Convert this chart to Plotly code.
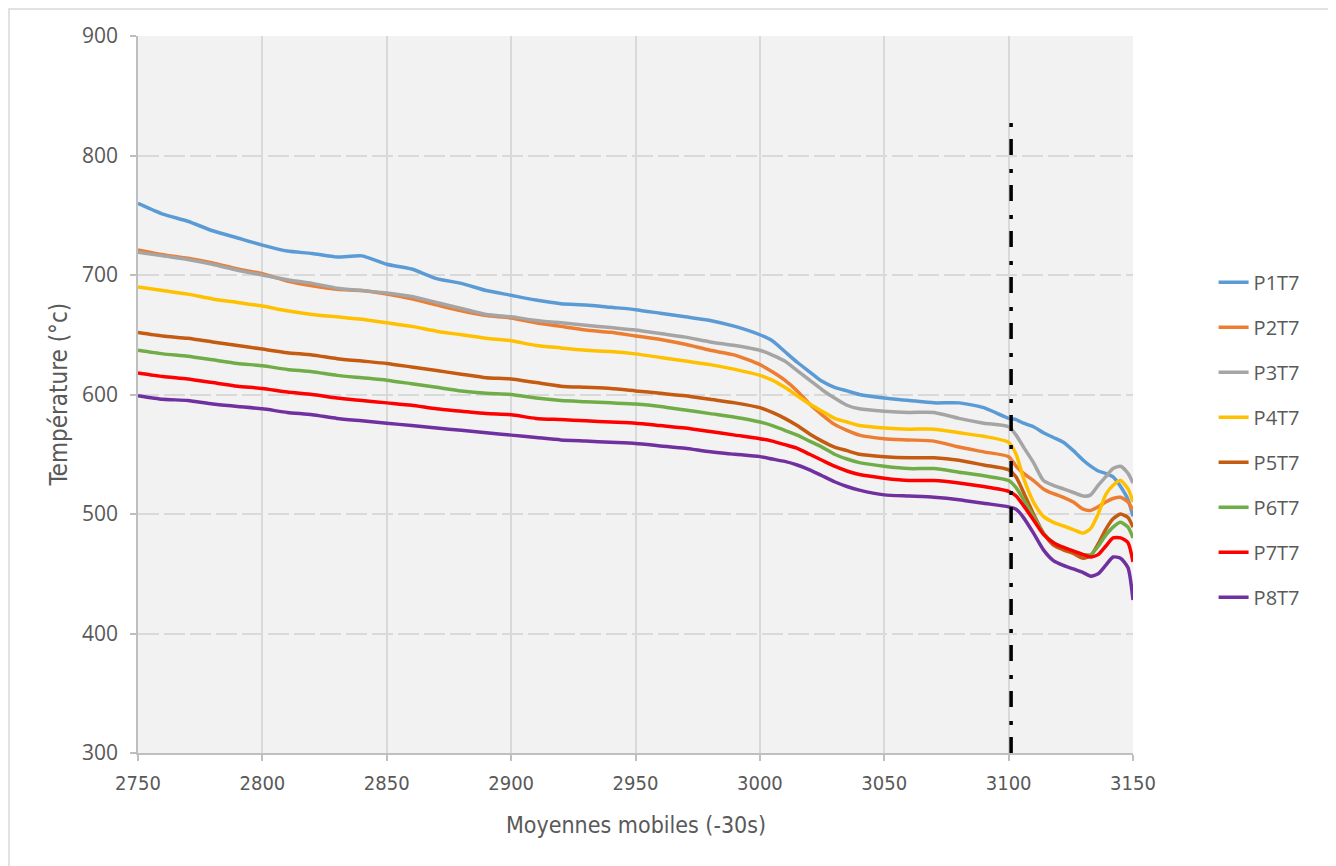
import plotly.graph_objects as go

x_vals = [2750, 2760, 2770, 2780, 2790, 2800, 2810, 2820, 2830, 2840,
          2850, 2860, 2870, 2880, 2890, 2900, 2910, 2920, 2930, 2940,
          2950, 2960, 2970, 2980, 2990, 3000, 3005, 3010, 3015, 3020,
          3025, 3030, 3035, 3040, 3050, 3060, 3070, 3080, 3090, 3100,
          3103, 3106, 3110, 3114, 3118, 3122, 3126, 3130, 3133, 3136,
          3139, 3142, 3145, 3148, 3150]

p1t7 = [760, 751, 745, 737, 731, 725, 720, 718, 715, 716,
        709, 705, 697, 693, 687, 683, 679, 676, 675, 673,
        671, 668, 665, 662, 657, 650, 645, 636, 627, 619,
        611, 606, 603, 600, 597, 595, 593, 593, 589, 580,
        579, 576, 573, 568, 564, 560, 553, 545, 540, 536,
        534, 531, 523, 512, 498]
p2t7 = [721, 717, 714, 710, 705, 701, 695, 691, 688, 687,
        684, 680, 675, 670, 666, 664, 660, 657, 654, 652,
        649, 646, 642, 637, 633, 625, 619, 612, 603, 592,
        583, 575, 570, 566, 563, 562, 561, 556, 552, 548,
        540, 534, 528, 521, 517, 514, 510, 504, 503, 506,
        510, 513, 514, 510, 503]
p3t7 = [719, 716, 713, 709, 704, 700, 696, 693, 689, 687,
        685, 682, 677, 672, 667, 665, 662, 660, 658, 656,
        654, 651, 648, 644, 641, 637, 633, 628, 620, 612,
        604, 597, 591, 588, 586, 585, 585, 580, 576, 573,
        566, 556, 543, 528, 524, 521, 518, 515, 516, 524,
        531, 538, 540, 534, 526]
p4t7 = [690, 687, 684, 680, 677, 674, 670, 667, 665, 663,
        660, 657, 653, 650, 647, 645, 641, 639, 637, 636,
        634, 631, 628, 625, 621, 616, 612, 606, 599, 592,
        586, 580, 577, 574, 572, 571, 571, 568, 565, 560,
        550, 530, 510, 498, 493, 490, 487, 484, 488, 500,
        516, 524, 528, 521, 510]
p5t7 = [652, 649, 647, 644, 641, 638, 635, 633, 630, 628,
        626, 623, 620, 617, 614, 613, 610, 607, 606, 605,
        603, 601, 599, 596, 593, 589, 585, 580, 574, 567,
        561, 556, 553, 550, 548, 547, 547, 545, 541, 537,
        531, 518, 500, 484, 474, 470, 467, 463, 465, 475,
        487, 496, 500, 497, 489]
p6t7 = [637, 634, 632, 629, 626, 624, 621, 619, 616, 614,
        612, 609, 606, 603, 601, 600, 597, 595, 594, 593,
        592, 590, 587, 584, 581, 577, 574, 570, 566, 561,
        556, 550, 546, 543, 540, 538, 538, 535, 532, 528,
        522, 512, 498, 484, 476, 472, 469, 466, 466, 473,
        482, 489, 493, 489, 480]
p7t7 = [618, 615, 613, 610, 607, 605, 602, 600, 597, 595,
        593, 591, 588, 586, 584, 583, 580, 579, 578, 577,
        576, 574, 572, 569, 566, 563, 561, 558, 555, 550,
        545, 540, 536, 533, 530, 528, 528, 526, 523, 519,
        515, 507, 495, 483, 476, 472, 469, 466, 464, 466,
        473, 480, 480, 476, 460]
p8t7 = [599, 596, 595, 592, 590, 588, 585, 583, 580, 578,
        576, 574, 572, 570, 568, 566, 564, 562, 561, 560,
        559, 557, 555, 552, 550, 548, 546, 544, 541, 537,
        532, 527, 523, 520, 516, 515, 514, 512, 509, 506,
        504, 497, 484, 470, 461, 457, 454, 451, 448, 450,
        457, 464, 463, 455, 428]

series_names = ["P1T7", "P2T7", "P3T7", "P4T7", "P5T7", "P6T7", "P7T7", "P8T7"]
series_values = [p1t7, p2t7, p3t7, p4t7, p5t7, p6t7, p7t7, p8t7]
series_colors = ["#5B9BD5", "#ED7D31", "#A5A5A5", "#FFC000",
                 "#C55A11", "#70AD47", "#FF0000", "#7030A0"]

marker_x = [3101, 3101]
marker_y = [300, 830]

x_ticks = [2750, 2800, 2850, 2900, 2950, 3000, 3050, 3100, 3150]
y_ticks = [300, 400, 500, 600, 700, 800, 900]

fig = go.Figure()
for name, vals, col in zip(series_names, series_values, series_colors):
    fig.add_trace(go.Scatter(
        x=x_vals, y=vals, name=name, mode="lines",
        line=dict(color=col, width=3.5, shape="spline", smoothing=0.6),
        legendgroup=name,
    ))

fig.add_trace(go.Scatter(
    x=marker_x, y=marker_y, mode="lines", showlegend=False,
    line=dict(color="#000000", width=3.5, dash="16px,12px,4px,14px"),
    hoverinfo="skip",
))

narrow = "Liberation Sans Narrow, DejaVu Sans Condensed, Arial Narrow, sans-serif"
wide = "Open Sans, Noto Sans, sans-serif"

L, T, PW, PH = 130, 28, 995, 717
W, H = 1328, 858

fig.update_layout(
    width=W, height=H,
    margin=dict(l=L, r=W - L - PW, t=T, b=H - T - PH),
    paper_bgcolor="white",
    plot_bgcolor="#F2F2F2",
    showlegend=True,
    legend=dict(
        x=1.081, y=0.437, xanchor="left", yanchor="middle",
        font=dict(family=wide, size=20, color="#595959"),
        traceorder="grouped", tracegroupgap=16,
        bgcolor="rgba(0,0,0,0)",
    ),
    xaxis=dict(
        range=[2750, 3150], tickvals=x_ticks, ticktext=[str(v) for v in x_ticks],
        showgrid=True, gridcolor="#D9D9D9", gridwidth=1.5,
        showline=True, linecolor="#BFBFBF", linewidth=1.5,
        ticks="outside", ticklen=6, tickcolor="#BFBFBF", tickwidth=1.5,
        tickfont=dict(family=narrow, size=20, color="#595959"),
        ticklabelstandoff=5,
        zeroline=False,
    ),
    yaxis=dict(
        range=[300, 900], tickvals=y_ticks, ticktext=[str(v) for v in y_ticks],
        showgrid=True, gridcolor="#D9D9D9", gridwidth=1.5, griddash="21px,5px",
        showline=True, linecolor="#BFBFBF", linewidth=1.5,
        ticks="outside", ticklen=6, tickcolor="#BFBFBF", tickwidth=1.5,
        tickfont=dict(family=wide, size=21, color="#595959"),
        ticklabelstandoff=8,
        zeroline=False,
    ),
    annotations=[
        dict(text="Moyennes mobiles (-30s)", xref="paper", yref="paper",
             x=0.5, y=-0.1, xanchor="center", yanchor="middle", showarrow=False,
             font=dict(family=narrow, size=23, color="#595959")),
        dict(text="Température (°c)", xref="paper", yref="paper",
             x=-0.0804, y=0.5, xanchor="center", yanchor="middle", showarrow=False,
             textangle=-90,
             font=dict(family=narrow, size=24, color="#595959")),
    ],
    shapes=[
        dict(type="rect", xref="paper", yref="paper",
             x0=(1 - L) / PW, x1=(1321 - L) / PW, y0=-0.3, y1=1 + (T - 1) / PH,
             line=dict(color="#D9D9D9", width=1.5), fillcolor="rgba(0,0,0,0)",
             layer="below"),
    ],
)

fig.write_html("out.html")
